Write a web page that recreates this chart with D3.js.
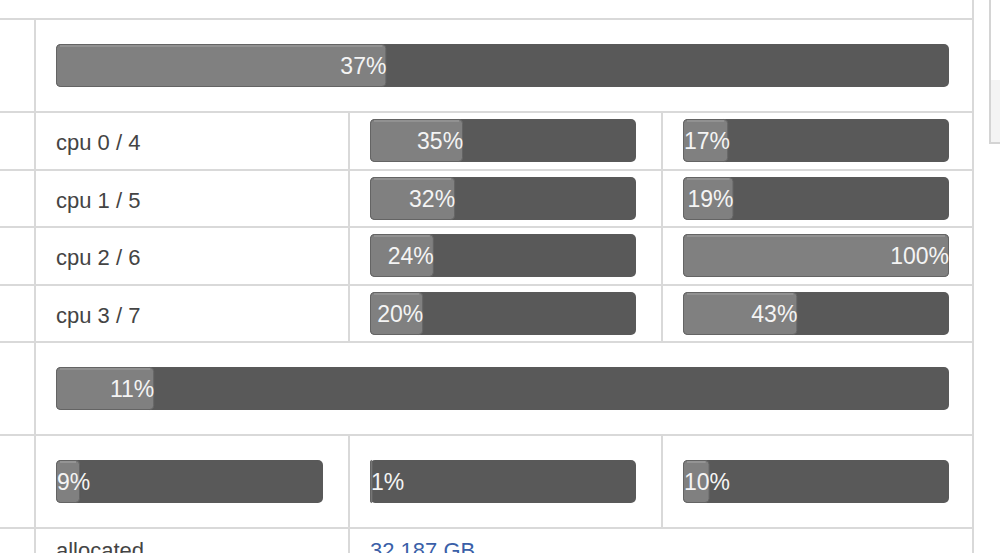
<!DOCTYPE html>
<html>
<head>
<meta charset="utf-8">
<script src="https://cdn.jsdelivr.net/npm/d3@7"></script>
<style>
  html, body { margin: 0; padding: 0; background: #fff; }
  svg { display: block; font-family: "Liberation Sans", Arial, sans-serif; }
</style>
</head>
<body>
<div id="chart"></div>
<script>
// Values
const totalUsage = [37];
const cpuLabels = ["cpu 0 / 4", "cpu 1 / 5", "cpu 2 / 6", "cpu 3 / 7"];
const cpuFirst = [35, 32, 24, 20];
const cpuSecond = [17, 19, 100, 43];
const secondUsage = [11];
const thirdUsage = [9, 1, 10];
const bottomLabels = ["allocated", "32.187 GB"];

// Chart dimensions and table layout
const width = 1000;
const height = 553;
const rowLines = [19, 112, 170, 227, 285, 342, 435, 528];
const colLeft = 35, colMid1 = 349, colMid2 = 662, colRight = 973;
const barH = 43;

// attach the svg right away so text can be measured
const graph = d3.select("#chart").append("svg")
    .attr("width", width)
    .attr("height", height);

const grid = graph.append("g")
    .attr("stroke", "#d9d9d9")
    .attr("stroke-width", 2);

// horizontal table lines
grid.selectAll("line.h")
    .data(rowLines)
    .join("line")
    .attr("class", "h")
    .attr("x1", 0).attr("x2", colRight)
    .attr("y1", d => d).attr("y2", d => d);

// vertical table lines
grid.append("line").attr("x1", colLeft).attr("x2", colLeft).attr("y1", 19).attr("y2", height);
grid.append("line").attr("x1", colRight).attr("x2", colRight).attr("y1", 0).attr("y2", height);
grid.append("line").attr("x1", colMid1).attr("x2", colMid1).attr("y1", 112).attr("y2", 342);
grid.append("line").attr("x1", colMid2).attr("x2", colMid2).attr("y1", 112).attr("y2", 342);
grid.append("line").attr("x1", colMid1).attr("x2", colMid1).attr("y1", 435).attr("y2", height);
grid.append("line").attr("x1", colMid2).attr("x2", colMid2).attr("y1", 435).attr("y2", 528);

// side panel edge on the far right
graph.append("rect")
    .attr("x", 990).attr("y", 80).attr("width", 12).attr("height", 63)
    .attr("fill", "#f4f4f4");
graph.append("path")
    .attr("d", "M990,0V143H1002")
    .attr("fill", "none")
    .attr("stroke", "#d4d4d4")
    .attr("stroke-width", 2);

// one progress bar: track, fill and label
function drawBar(x0, x1, yTop, value) {
    const xscale = d3.scaleLinear().domain([0, 100]).range([x0, x1]);
    const g = graph.append("g");
    g.append("rect")
        .attr("x", x0).attr("y", yTop)
        .attr("width", x1 - x0).attr("height", barH)
        .attr("rx", 5)
        .attr("fill", "#595959");
    const fx = xscale(value);
    g.append("rect")
        .attr("x", x0 + 0.5).attr("y", yTop + 0.5)
        .attr("width", Math.max(fx - x0 - 1, 1.5)).attr("height", barH - 1)
        .attr("rx", Math.min(4, (fx - x0) / 2))
        .attr("fill", "#808080")
        .attr("stroke", "#646464")
        .attr("stroke-width", 1);
    if (fx - x0 > 8) {
        g.append("line")
            .attr("x1", x0 + 4).attr("x2", fx - 4)
            .attr("y1", yTop + 2).attr("y2", yTop + 2)
            .attr("stroke", "#a2a2a2")
            .attr("stroke-width", 1.2);
    }
    const label = g.append("text")
        .attr("y", yTop + barH / 2 + 8)
        .attr("font-size", 23)
        .attr("fill", "#f4f4f4")
        .text(value + "%");
    const tw = label.node().getComputedTextLength();
    if (fx - tw < x0 + 1) {
        // label wider than the fill: it starts at the bar's left edge
        label.attr("x", x0 + 1).attr("text-anchor", "start");
    } else {
        label.attr("x", fx).attr("text-anchor", "end");
    }
}

// total bar
totalUsage.forEach(v => drawBar(56, 949, 44, v));

// per-cpu rows
const cpuRowTop = [112, 170, 227, 285];
cpuLabels.forEach((name, i) => {
    graph.append("text")
        .attr("x", 56)
        .attr("y", cpuRowTop[i] + 38)
        .attr("font-size", 22)
        .attr("fill", "#444")
        .text(name);
    drawBar(370, 636, cpuRowTop[i] + 7, cpuFirst[i]);
    drawBar(683, 949, cpuRowTop[i] + 7, cpuSecond[i]);
});

// second full-width bar
secondUsage.forEach(v => drawBar(56, 949, 367, v));

// three-column row
const thirdCols = [[56, 323], [370, 636], [683, 949]];
thirdUsage.forEach((v, i) => drawBar(thirdCols[i][0], thirdCols[i][1], 460, v));

// bottom row (cut off by the window, as in the original)
graph.append("text")
    .attr("x", 56).attr("y", 558)
    .attr("font-size", 22)
    .attr("fill", "#444")
    .text(bottomLabels[0]);
graph.append("text")
    .attr("x", 370).attr("y", 558)
    .attr("font-size", 22)
    .attr("fill", "#3a5fa8")
    .text(bottomLabels[1]);
</script>
</body>
</html>
